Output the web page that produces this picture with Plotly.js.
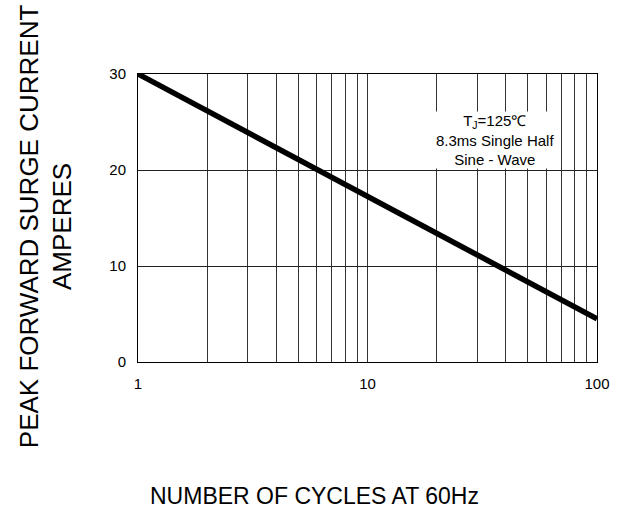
<!DOCTYPE html>
<html>
<head>
<meta charset="utf-8">
<script src="https://cdn.plot.ly/plotly-3.0.1.min.js"></script>
<style>html,body{margin:0;padding:0;background:#fff;}#chart{width:623px;height:510px;}</style>
</head>
<body>
<div id="chart"></div>
<script>
// Data
var cycles = [1, 100];
var current = [30, 4.5];
var xTickVals = [1, 10, 100];
var xTickText = ['1', '10', '100'];
var xMinorVals = [2,3,4,5,6,7,8,9,20,30,40,50,60,70,80,90];
var yTickVals = [0, 10, 20, 30];
var yTitle = 'PEAK FORWARD SURGE CURRENT<br>AMPERES';
var xTitle = 'NUMBER OF CYCLES AT 60Hz';
var noteText = 'T<sub>J</sub>=125\u2103<br>8.3ms Single Half<br>Sine - Wave';

var FONT = 'Liberation Sans, Arial, sans-serif';

var trace = {
  x: cycles,
  y: current,
  type: 'scatter',
  mode: 'lines',
  line: {color: '#000', width: 5.5},
  hoverinfo: 'skip'
};

var layout = {
  width: 623,
  height: 510,
  margin: {l: 138, r: 26, t: 74, b: 148},
  paper_bgcolor: '#fff',
  plot_bgcolor: '#fff',
  showlegend: false,
  font: {family: FONT, color: '#000', size: 15},
  xaxis: {
    type: 'log',
    range: [0, 2],
    tickmode: 'array',
    tickvals: xTickVals,
    ticktext: xTickText,
    showgrid: true,
    gridcolor: '#333',
    gridwidth: 1,
    minor: {
      tickmode: 'array',
      tickvals: xMinorVals,
      showgrid: true,
      gridcolor: '#333',
      gridwidth: 1,
      ticks: ''
    },
    showline: true,
    linecolor: '#000',
    linewidth: 1,
    mirror: true,
    ticks: '',
    ticklabelstandoff: 8,
    tickfont: {family: FONT, size: 15, color: '#000'},
    zeroline: false,
    fixedrange: true
  },
  yaxis: {
    range: [0, 30],
    tickmode: 'array',
    tickvals: yTickVals,
    showgrid: true,
    gridcolor: '#222',
    gridwidth: 1,
    showline: true,
    linecolor: '#000',
    linewidth: 1,
    mirror: true,
    ticks: '',
    ticklabelstandoff: 8,
    tickfont: {family: FONT, size: 15, color: '#000'},
    zeroline: false,
    fixedrange: true
  },
  annotations: [
    {
      text: noteText,
      xref: 'paper', yref: 'paper',
      x: 0.777, y: 0.772,
      xanchor: 'center', yanchor: 'middle',
      showarrow: false,
      align: 'center',
      bgcolor: '#fff',
      borderpad: 0,
      font: {family: FONT, size: 15, color: '#000'}
    },
    {
      text: yTitle,
      xref: 'paper', yref: 'paper',
      x: -0.2017, y: 0.473,
      xanchor: 'center', yanchor: 'middle',
      textangle: -90,
      showarrow: false,
      align: 'center',
      font: {family: FONT, size: 26, color: '#000'}
    },
    {
      text: xTitle,
      xref: 'paper', yref: 'paper',
      x: 0.3836, y: -0.464,
      xanchor: 'center', yanchor: 'middle',
      showarrow: false,
      font: {family: FONT, size: 23, color: '#000'}
    }
  ]
};

Plotly.newPlot('chart', [trace], layout, {staticPlot: true, displayModeBar: false});
</script>
</body>
</html>
